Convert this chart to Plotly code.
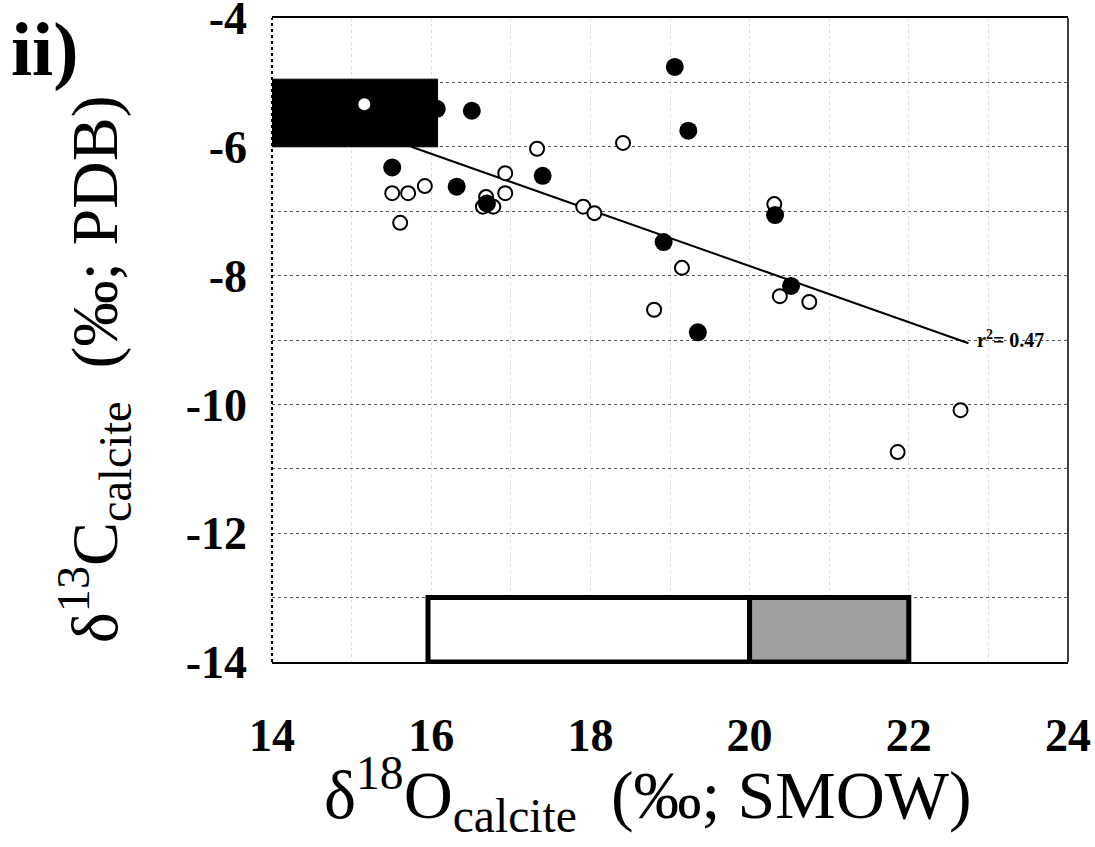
import plotly.graph_objects as go

# ---- data ----
filled_x = [19.06, 19.23, 16.07, 16.51, 15.51, 16.32, 17.40, 18.92, 20.32, 20.52, 19.35, 16.70]
filled_y = [-4.76, -5.75, -5.41, -5.44, -6.32, -6.62, -6.45, -7.48, -7.06, -8.16, -8.88, -6.88]

open_x = [15.16, 17.33, 18.41, 15.51, 15.71, 15.92, 15.61, 16.69, 16.65, 16.78, 16.93, 16.93,
          17.91, 18.05, 19.15, 20.31, 20.38, 20.75, 18.80, 21.86, 22.65]
open_y = [-5.34, -6.03, -5.94, -6.72, -6.72, -6.61, -7.18, -6.78, -6.93, -6.93, -6.41, -6.72,
          -6.93, -7.03, -7.88, -6.89, -8.32, -8.41, -8.53, -10.74, -10.09]

fit_x = [15.75, 22.75]
fit_y = [-6.0, -9.05]
r2_text = "<b>r<sup>2</sup>= 0.47</b>"

black_box_x = [14.0, 16.08]
black_box_y = [-6.0, -4.95]
white_box_x = [15.96, 20.0]
gray_box_x = [20.0, 22.0]
bottom_box_y = [-14.0, -13.0]

x_ticks = [14, 16, 18, 20, 22, 24]
y_ticks = [-4, -6, -8, -10, -12, -14]
y_minor = [-5, -7, -9, -11, -13]
x_minor = [15, 17, 19, 21, 23]

SERIF = "Liberation Serif, Times New Roman, serif"

fig = go.Figure()

fig.add_trace(go.Scatter(x=fit_x, y=fit_y, mode="lines",
                         line=dict(color="black", width=2), hoverinfo="skip"))
fig.add_trace(go.Scatter(x=open_x, y=open_y, mode="markers",
                         marker=dict(size=14, color="white", line=dict(color="black", width=2))))
fig.add_trace(go.Scatter(x=filled_x, y=filled_y, mode="markers",
                         marker=dict(size=18, color="black", line=dict(width=0))))

# boxes
fig.add_shape(type="rect", x0=black_box_x[0], x1=black_box_x[1], y0=black_box_y[0], y1=black_box_y[1],
              fillcolor="black", line=dict(color="black", width=1), layer="between")
fig.add_shape(type="rect", x0=white_box_x[0], x1=white_box_x[1], y0=bottom_box_y[0], y1=bottom_box_y[1],
              fillcolor="white", line=dict(color="black", width=5), layer="between")
fig.add_shape(type="rect", x0=gray_box_x[0], x1=gray_box_x[1], y0=bottom_box_y[0], y1=bottom_box_y[1],
              fillcolor="#a0a0a0", line=dict(color="black", width=5), layer="between")

# frame lines
fig.add_shape(type="line", xref="x domain", yref="y domain", x0=0, x1=0, y0=0, y1=1,
              line=dict(color="black", width=2, dash="dot"), layer="above")
fig.add_shape(type="line", xref="x domain", yref="y domain", x0=1, x1=1, y0=0, y1=1,
              line=dict(color="black", width=1.5), layer="above")

fig.add_annotation(x=fit_x[1] + 0.08, y=fit_y[1] + 0.07, text=r2_text, showarrow=False,
                   xanchor="left", yanchor="middle",
                   font=dict(family=SERIF, size=20, color="black"))

# panel label and axis titles
fig.add_annotation(xref="paper", yref="paper", x=-0.33, y=1.02, text="<b>ii)</b>",
                   showarrow=False, xanchor="left", yanchor="top",
                   font=dict(family=SERIF, size=76, color="black"))
fig.add_annotation(xref="paper", yref="paper", x=-0.222, y=0.455,
                   text="δ<sup>13</sup>C<sub>calcite</sub>  (‰; PDB)",
                   showarrow=False, textangle=-90, xanchor="center", yanchor="middle",
                   font=dict(family=SERIF, size=66, color="black"))
fig.add_annotation(xref="paper", yref="paper", x=0.472, y=-0.205,
                   text="δ<sup>18</sup>O<sub>calcite</sub>  (‰; SMOW)",
                   showarrow=False, xanchor="center", yanchor="middle",
                   font=dict(family=SERIF, size=68, color="black"))

fig.update_layout(
    width=1095, height=847,
    margin=dict(l=272, r=27, t=18, b=185, autoexpand=False),
    paper_bgcolor="white", plot_bgcolor="white",
    showlegend=False,
    font=dict(family=SERIF, color="black"),
    xaxis=dict(range=[14, 24], tickvals=x_ticks, ticktext=[str(v) for v in x_ticks],
               showgrid=True, gridcolor="#dcdcdc", griddash="dot", gridwidth=1,
               minor=dict(tickvals=x_minor, showgrid=True, gridcolor="#dcdcdc", griddash="dot"),
               showline=True, mirror=True, linecolor="black", linewidth=2,
               ticks="", zeroline=False, ticklabelstandoff=32, ticklabeloverflow="allow",
               automargin=False,
               tickfont=dict(family=SERIF, size=46, color="black", weight="bold")),
    yaxis=dict(range=[-14, -4], tickvals=y_ticks, ticktext=[str(v) for v in y_ticks],
               showgrid=True, gridcolor="#555555", griddash="dot", gridwidth=1,
               minor=dict(tickvals=y_minor, showgrid=True, gridcolor="#555555", griddash="dot"),
               showline=False, ticks="", zeroline=False, ticklabelstandoff=24,
               ticklabeloverflow="allow", automargin=False,
               tickfont=dict(family=SERIF, size=46, color="black", weight="bold")),
)

fig.write_html("out.html")
